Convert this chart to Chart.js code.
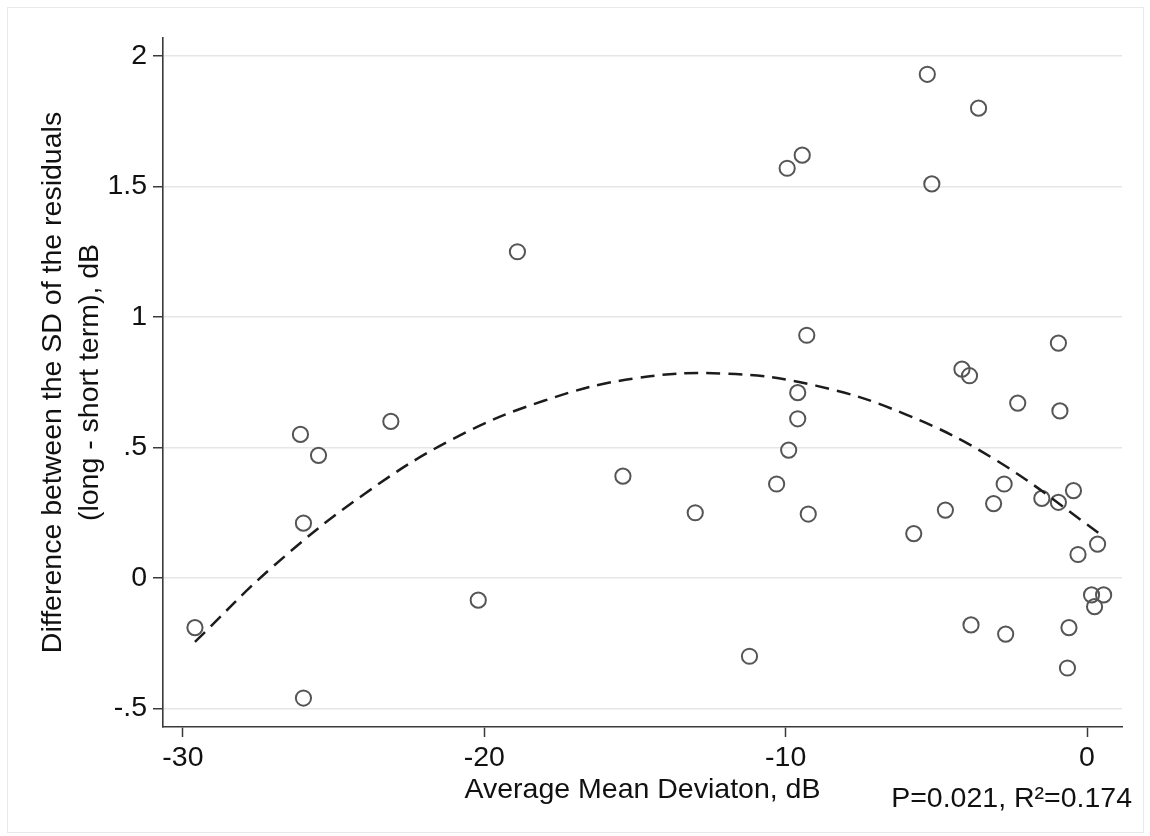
<!DOCTYPE html>
<html>
<head>
<meta charset="utf-8">
<title>SD residual difference vs average MD</title>
<script src="https://cdn.jsdelivr.net/npm/chart.js@4.4.1/dist/chart.umd.min.js"></script>
<style>
  html, body { margin: 0; padding: 0; background: #fff; }
  .wrap { position: relative; width: 1150px; height: 836px; }
  .frame { position: absolute; left: 7px; top: 7px; width: 1137px; height: 826px;
           border: 1px solid #e9e9e9; box-sizing: border-box; pointer-events: none; }
  canvas { position: absolute; left: 0; top: 0; }
</style>
</head>
<body>
<div class="wrap">
  <div class="frame"></div>
  <canvas id="c" width="1150" height="836"></canvas>
</div>
<script>
/* --- data --- */
var mdX = [-29.6, -26.1, -25.5, -26.0, -26.0, -23.1, -20.2, -18.9, -15.4, -13.0,
           -11.2, -10.3, -9.9, -9.6, -9.6, -9.3, -9.25, -9.95, -9.45, -5.3,
           -3.6, -5.15, -0.95, -4.15, -3.9, -2.3, -0.9, -2.75, -0.45, -1.5,
           -0.95, -3.1, -4.7, -5.75, 0.35, -0.3, 0.15, 0.55, 0.25, -3.85,
           -2.7, -0.6, -0.65];
var sdDiff = [-0.19, 0.55, 0.47, 0.21, -0.46, 0.60, -0.085, 1.25, 0.39, 0.25,
              -0.30, 0.36, 0.49, 0.61, 0.71, 0.93, 0.245, 1.57, 1.62, 1.93,
              1.80, 1.51, 0.90, 0.80, 0.775, 0.67, 0.64, 0.36, 0.335, 0.305,
              0.29, 0.285, 0.26, 0.17, 0.13, 0.09, -0.065, -0.065, -0.11, -0.18,
              -0.215, -0.19, -0.345];

// quadratic fit line (dashed)
var fitX = [-29.6, -27, -24, -21, -18, -15, -12, -9, -6, -3, 0.5];
var fitY = [-0.245, 0.045, 0.32, 0.535, 0.68, 0.765, 0.783, 0.737, 0.626, 0.45, 0.163];

var xTicks = [-30, -20, -10, 0];
var yTicks = [-0.5, 0, 0.5, 1, 1.5, 2];
var yTickLabels = ['-.5', '0', '.5', '1', '1.5', '2'];

var xTitle = 'Average Mean Deviaton, dB';
var yTitle = ['Difference between the SD of the residuals', '(long - short term), dB'];
var note = 'P=0.021, R\u00B2=0.174';

/* --- style --- */
var FONT = '"Liberation Sans", Arial, Helvetica, sans-serif';
var FS = 28.5;
var INK = '#111';
var AXIS = '#3a3a3a';
var GRID = '#e6e6e6';

function pts(xs, ys) {
  return xs.map(function (x, i) { return { x: x, y: ys[i] }; });
}

// stats note bottom-right, under the axis
var notePlugin = {
  id: 'note',
  afterDraw: function (chart) {
    var ctx = chart.ctx;
    ctx.save();
    ctx.font = FS + 'px ' + FONT;
    ctx.fillStyle = INK;
    ctx.textAlign = 'right';
    ctx.textBaseline = 'alphabetic';
    ctx.fillText(note, 1132, 807);
    ctx.restore();
  }
};

Chart.defaults.font.family = FONT;
Chart.defaults.font.size = FS;
Chart.defaults.font.lineHeight = 1.3;
Chart.defaults.color = INK;

new Chart(document.getElementById('c'), {
  type: 'scatter',
  data: {
    datasets: [
      { type: 'line', label: 'fit', data: pts(fitX, fitY),
        borderColor: '#1c1c1c', borderWidth: 2.5, borderDash: [14, 8],
        pointRadius: 0, tension: 0.4, fill: false, order: 0 },
      { label: 'eyes', data: pts(mdX, sdDiff),
        pointRadius: 7.6, pointHoverRadius: 7.6, pointBorderWidth: 2,
        pointBorderColor: '#555', pointBackgroundColor: 'rgba(0,0,0,0)', order: 1 }
    ]
  },
  options: {
    responsive: false,
    animation: false,
    layout: { padding: { top: 38, right: 28, left: 0, bottom: 0 } },
    plugins: { legend: { display: false }, tooltip: { enabled: false } },
    scales: {
      x: {
        type: 'linear', min: -30.66, max: 1.16,
        afterFit: function (s) { s.height = 109; },
        afterBuildTicks: function (s) { s.ticks = xTicks.map(function (v) { return { value: v }; }); },
        ticks: { padding: 3, maxRotation: 0, includeBounds: false,
                 callback: function (v) { return String(v); } },
        grid: { drawOnChartArea: false, drawTicks: true, tickLength: 10,
                tickColor: AXIS, tickWidth: 1.5 },
        border: { display: true, color: AXIS, width: 1.6 },
        title: { display: true, text: xTitle, padding: { top: 0, bottom: 27 } }
      },
      y: {
        type: 'linear', min: -0.571, max: 2.069,
        afterFit: function (s) { s.width = 163; },
        afterBuildTicks: function (s) { s.ticks = yTicks.map(function (v) { return { value: v }; }); },
        ticks: { padding: 6, includeBounds: false,
                 callback: function (v) { var i = yTicks.indexOf(v); return i < 0 ? '' : yTickLabels[i]; } },
        grid: { color: GRID, lineWidth: 1.5, drawTicks: true, tickLength: 10,
                tickColor: AXIS, tickWidth: 1.5 },
        border: { display: true, color: AXIS, width: 1.6 },
        title: { display: true, text: yTitle, padding: { top: 35, bottom: 0 } }
      }
    }
  },
  plugins: [notePlugin]
});
</script>
</body>
</html>
